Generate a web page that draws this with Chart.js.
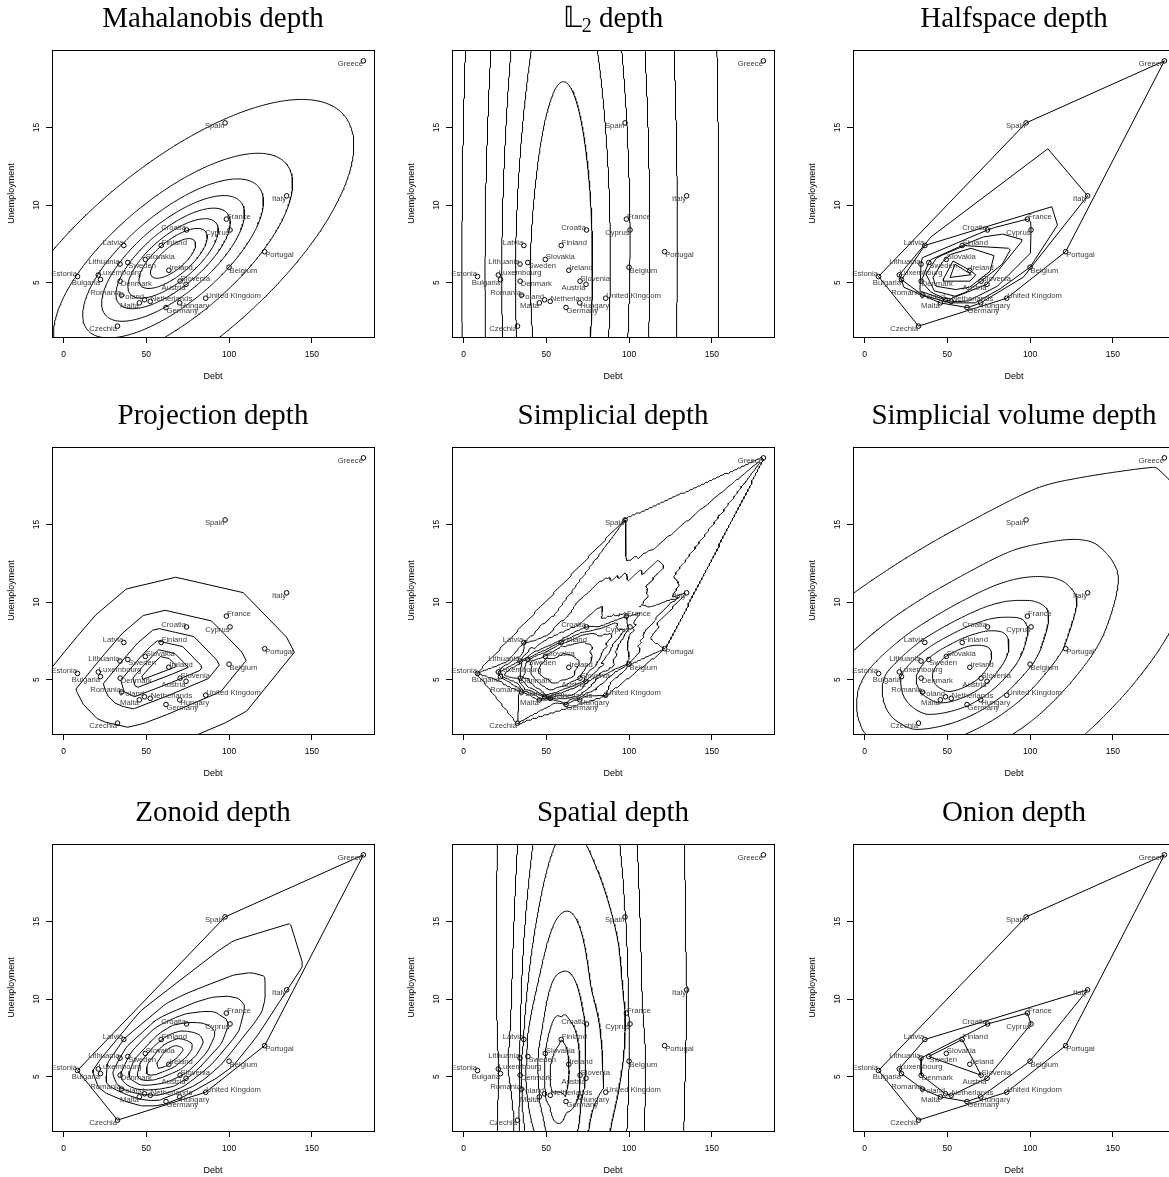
<!DOCTYPE html>
<html><head><meta charset="utf-8">
<title>Data depth contours</title>
<script src="https://cdn.jsdelivr.net/npm/chart.js@4.4.1/dist/chart.umd.min.js"></script>
<style>
html,body{margin:0;padding:0;background:#fff;}
body{width:1169px;height:1177px;overflow:hidden;position:relative;}
.panel{position:absolute;width:400px;height:397px;}
.panel canvas{position:absolute;left:0;top:0;}
.ttl{position:absolute;left:52px;width:322px;top:0;height:34px;text-align:center;font-family:'Liberation Serif','Times New Roman',serif;font-size:29px;line-height:34px;color:#000;white-space:nowrap;}
.ttl sub{font-size:20px;vertical-align:-5px;line-height:0;}
</style></head><body>
<script>
// ---------------- data ----------------
const countries = ['Greece','Spain','Italy','France','Cyprus','Croatia','Finland','Latvia','Portugal','Slovakia','Sweden','Lithuania','Belgium','Ireland','Luxembourg','Estonia','Bulgaria','Denmark','Slovenia','Austria','Romania','United Kingdom','Poland','Netherlands','Malta','Hungary','Germany','Czechia'];
const debt = [181.2,97.6,134.8,98.4,100.6,74.3,59.0,36.4,121.5,49.4,38.8,34.1,100.0,63.6,21.0,8.4,22.3,34.2,70.4,74.0,35.0,85.9,48.9,52.4,45.8,70.2,61.9,32.6];
const unemployment = [19.3,15.3,10.6,9.1,8.4,8.4,7.4,7.4,7.0,6.5,6.3,6.2,6.0,5.8,5.5,5.4,5.2,5.1,5.1,4.9,4.2,4.0,3.9,3.8,3.7,3.7,3.4,2.2];
const xTicks = [0, 50, 100, 150];
const yTicks = [5, 10, 15];
const panelTitles = ['Mahalanobis depth', '\u{1D543}<sub>2</sub> depth', 'Halfspace depth',
                     'Projection depth', 'Simplicial depth', 'Simplicial volume depth',
                     'Zonoid depth', 'Spatial depth', 'Onion depth'];
// contour levels: fractions of each panel's maximal depth (0 = support boundary)
const levelFractions = [1/9, 2/9, 3/9, 4/9, 5/9, 6/9, 7/9, 8/9];
const projectionLevelFractions = [0.7/9, 2.5/9, 3.5/9, 4.5/9, 5.5/9, 6.5/9, 7.5/9];
// label placement (L/R of point, Above/Below)
const labelSide = ['LB','LB','LB','RA','LB','LA','RA','LA','RB','RA','RB','LA','RB','RA','RA','LA','LB','RB','RA','LB','LA','RA','LA','RA','LB','RB','RB','LB'];

// ---------------- depth computations ----------------
const N = debt.length;
const P = debt.map((d,i)=>[d, unemployment[i]]);
const mx = debt.reduce((a,b)=>a+b,0)/N, my = unemployment.reduce((a,b)=>a+b,0)/N;
let sxx=0, syy=0, sxy=0;
for (const [x,y] of P){ sxx+=(x-mx)*(x-mx); syy+=(y-my)*(y-my); sxy+=(x-mx)*(y-my); }
sxx/=(N-1); syy/=(N-1); sxy/=(N-1);
const det = sxx*syy - sxy*sxy;
const ixx = syy/det, iyy = sxx/det, ixy = -sxy/det;
const sdx = Math.sqrt(sxx), sdy = Math.sqrt(syy);

const GX0=-14, GX1=195, GY0=0.3, GY1=21.2, NX=181, NY=181;
const DX=(GX1-GX0)/(NX-1), DY=(GY1-GY0)/(NY-1);
function gridFrom(fn){
  const z=new Float64Array(NX*NY);
  for(let j=0;j<NY;j++){const y=GY0+j*DY; for(let i=0;i<NX;i++){ z[j*NX+i]=fn(GX0+i*DX,y);} }
  return z;
}
function maxOf(z){ let m=-Infinity; for(const v of z) if(v>m) m=v; return m; }
const fracLevels = (M, fr=levelFractions) => fr.map(f=>f*M);
function mahal(x,y){ const dx=x-mx, dy=y-my; return 1/(1+dx*dx*ixx+2*dx*dy*ixy+dy*dy*iyy); }
function l2depth(x,y){ let s=0; for(const p of P) s+=Math.hypot(x-p[0],y-p[1]); return 1/(1+s/N); }
function spatial(x,y){ let ux=0,uy=0; for(const p of P){ const dx=x-p[0],dy=y-p[1],r=Math.hypot(dx,dy); if(r>1e-12){ux+=dx/r;uy+=dy/r;} } return 1-Math.hypot(ux,uy)/N; }
const pairC=[];
for(let i=0;i<N;i++) for(let j=i+1;j<N;j++){ const a=P[i], b=P[j]; pairC.push([a[0]*b[1]-a[1]*b[0], a[1]-b[1], b[0]-a[0]]); }
function oja(x,y){ let s=0; for(const c of pairC) s+=Math.abs(c[0]+x*c[1]+y*c[2]); s=s/2/pairC.length; return 1/(1+s); }
function simplicialGrid(){
  const z=new Float64Array(NX*NY); let cnt=0;
  for(let a=0;a<N;a++) for(let b=a+1;b<N;b++) for(let c=b+1;c<N;c++){
    cnt++;
    const A=P[a],B=P[b],C=P[c];
    const x0=Math.min(A[0],B[0],C[0]), x1=Math.max(A[0],B[0],C[0]), y0=Math.min(A[1],B[1],C[1]), y1=Math.max(A[1],B[1],C[1]);
    const i0=Math.max(0,Math.ceil((x0-GX0)/DX)), i1=Math.min(NX-1,Math.floor((x1-GX0)/DX));
    const j0=Math.max(0,Math.ceil((y0-GY0)/DY)), j1=Math.min(NY-1,Math.floor((y1-GY0)/DY));
    for(let j=j0;j<=j1;j++){ const y=GY0+j*DY; for(let i=i0;i<=i1;i++){ const x=GX0+i*DX;
      const d1=(B[0]-A[0])*(y-A[1])-(B[1]-A[1])*(x-A[0]);
      const d2=(C[0]-B[0])*(y-B[1])-(C[1]-B[1])*(x-B[0]);
      const d3=(A[0]-C[0])*(y-C[1])-(A[1]-C[1])*(x-C[0]);
      if((d1>=0&&d2>=0&&d3>=0)||(d1<=0&&d2<=0&&d3<=0)) z[j*NX+i]+=1;
    }}
  }
  for(let k=0;k<z.length;k++) z[k]/=cnt;
  return z;
}
function isolines(z, level){
  const segs=[];
  const X=i=>GX0+i*DX, Yv=j=>GY0+j*DY;
  function ep(e,i,j,a,b,c,d){
    let t;
    if(e===0){ t=(level-a)/(b-a); return [(j*NX+i)*2, [X(i)+t*DX, Yv(j)]]; }
    if(e===1){ t=(level-b)/(c-b); return [(j*NX+i+1)*2+1, [X(i+1), Yv(j)+t*DY]]; }
    if(e===2){ t=(level-d)/(c-d); return [((j+1)*NX+i)*2, [X(i)+t*DX, Yv(j+1)]]; }
    t=(level-a)/(d-a); return [(j*NX+i)*2+1, [X(i), Yv(j)+t*DY]];
  }
  for(let j=0;j<NY-1;j++) for(let i=0;i<NX-1;i++){
    const a=z[j*NX+i], b=z[j*NX+i+1], c=z[(j+1)*NX+i+1], d=z[(j+1)*NX+i];
    const A=a>=level, B=b>=level, C=c>=level, D=d>=level;
    const idx=(A?1:0)|(B?2:0)|(C?4:0)|(D?8:0);
    if(idx===0||idx===15) continue;
    const es=[]; if(A!==B) es.push(0); if(B!==C) es.push(1); if(D!==C) es.push(2); if(A!==D) es.push(3);
    let pe;
    if(es.length===2) pe=[[es[0],es[1]]];
    else { const ctr=(a+b+c+d)/4>=level;
      if(idx===5) pe= ctr?[[0,1],[2,3]]:[[3,0],[1,2]]; else pe= ctr?[[3,0],[1,2]]:[[0,1],[2,3]]; }
    for(const [e1,e2] of pe){ const p1=ep(e1,i,j,a,b,c,d), p2=ep(e2,i,j,a,b,c,d); segs.push({ka:p1[0],pa:p1[1],kb:p2[0],pb:p2[1]}); }
  }
  const map=new Map();
  segs.forEach((s,k)=>{ for(const key of [s.ka,s.kb]){ let l=map.get(key); if(!l){l=[];map.set(key,l);} l.push(k);} });
  const used=new Uint8Array(segs.length); const lines=[];
  for(let k=0;k<segs.length;k++){
    if(used[k]) continue; used[k]=1;
    const pts=[segs[k].pa, segs[k].pb];
    for(const dir of [1,0]){
      let key= dir? segs[k].kb : segs[k].ka;
      while(true){ const l=map.get(key); let nx=-1; for(const m of l) if(!used[m]){nx=m;break;} if(nx<0) break; used[nx]=1; const s=segs[nx];
        let np; if(s.ka===key){np=s.pb;key=s.kb;} else {np=s.pa;key=s.ka;}
        if(dir) pts.push(np); else pts.unshift(np); }
    }
    lines.push(pts);
  }
  return lines;
}
function gridContours(z, levels){ let out=[]; for(const lv of levels) out=out.concat(isolines(z,lv)); return out; }

function hullIdx(idx){
  const pts=idx.slice().sort((a,b)=>P[a][0]-P[b][0]||P[a][1]-P[b][1]);
  const cr=(o,a,b)=>(P[a][0]-P[o][0])*(P[b][1]-P[o][1])-(P[a][1]-P[o][1])*(P[b][0]-P[o][0]);
  const lo=[],up=[];
  for(const p of pts){ while(lo.length>=2&&cr(lo[lo.length-2],lo[lo.length-1],p)<=0) lo.pop(); lo.push(p); }
  for(let k=pts.length-1;k>=0;k--){ const p=pts[k]; while(up.length>=2&&cr(up[up.length-2],up[up.length-1],p)<=0) up.pop(); up.push(p); }
  up.pop(); lo.pop(); return lo.concat(up);
}
function hullPts(pts){
  pts=pts.slice().sort((a,b)=>a[0]-b[0]||a[1]-b[1]);
  const cr=(o,a,b)=>(a[0]-o[0])*(b[1]-o[1])-(a[1]-o[1])*(b[0]-o[0]);
  const lo=[],up=[];
  for(const p of pts){ while(lo.length>=2&&cr(lo[lo.length-2],lo[lo.length-1],p)<=1e-12) lo.pop(); lo.push(p); }
  for(let k=pts.length-1;k>=0;k--){ const p=pts[k]; while(up.length>=2&&cr(up[up.length-2],up[up.length-1],p)<=1e-12) up.pop(); up.push(p); }
  up.pop(); lo.pop(); return lo.concat(up);
}
function clipPoly(poly, ux, uy, c){
  const out=[];
  for(let i=0;i<poly.length;i++){
    const p=poly[i], q=poly[(i+1)%poly.length];
    const fp=ux*p[0]+uy*p[1]-c, fq=ux*q[0]+uy*q[1]-c;
    if(fp<=0) out.push(p);
    if((fp<0&&fq>0)||(fp>0&&fq<0)){ const t=fp/(fp-fq); out.push([p[0]+t*(q[0]-p[0]), p[1]+t*(q[1]-p[1])]); }
  }
  return out;
}
function polyArea(poly){ let s=0; for(let i=0;i<poly.length;i++){const p=poly[i],q=poly[(i+1)%poly.length]; s+=p[0]*q[1]-q[0]*p[1];} return Math.abs(s)/2; }
const critAngles=[];
for(let i=0;i<N;i++) for(let j=i+1;j<N;j++){ const dx=P[j][0]-P[i][0], dy=P[j][1]-P[i][1]; const a=Math.atan2(dx,-dy); critAngles.push(a, a+Math.PI); }
function stdDirs(n, span){ const d=[]; for(let k=0;k<n;k++){ const t=span*k/n; const ux=Math.cos(t)/sdx, uy=Math.sin(t)/sdy, r=Math.hypot(ux,uy); d.push([ux/r,uy/r]); } return d; }
const dirs=critAngles.map(a=>[Math.cos(a),Math.sin(a)]).concat(stdDirs(720,2*Math.PI));
const bigBox=[[-1e4,-1e4],[1e4,-1e4],[1e4,1e4],[-1e4,1e4]];
function tukeyRegions(){
  const proj=dirs.map(([ux,uy])=>P.map(p=>p[0]*ux+p[1]*uy).sort((a,b)=>b-a));
  const regs=[];
  for(let k=1;k<=N;k++){
    let poly=bigBox;
    for(let d=0;d<dirs.length&&poly.length>=3;d++) poly=clipPoly(poly,dirs[d][0],dirs[d][1],proj[d][k-1]+1e-9);
    if(poly.length<3||polyArea(poly)<1e-6) break;
    regs.push(poly);
  }
  return regs;
}
function median(a){ const s=a.slice().sort((x,y)=>x-y); const m=s.length>>1; return s.length%2?s[m]:(s[m-1]+s[m])/2; }
const projDirs=stdDirs(1800,Math.PI).concat(critAngles.map(a=>[Math.cos(a),Math.sin(a)]));
const projStats=projDirs.map(([ux,uy])=>{ const pr=P.map(p=>p[0]*ux+p[1]*uy); const md=median(pr); const mad=median(pr.map(v=>Math.abs(v-md))); return [md,mad]; });
function projectionMax(){
  let minO=Infinity;
  for(let j=0;j<NY;j++){ const y=GY0+j*DY; for(let i=0;i<NX;i++){ const x=GX0+i*DX; let o=0;
    for(let d=0;d<projDirs.length;d+=3){ const v=Math.abs(projDirs[d][0]*x+projDirs[d][1]*y-projStats[d][0])/projStats[d][1]; if(v>o){o=v; if(o>=minO) break;} }
    if(o<minO) minO=o; } }
  return 1/(1+minO);
}
function projectionRegions(levels){
  const regs=[];
  for(const lv of levels){
    const c=1/lv-1; let poly=bigBox;
    for(let d=0;d<projDirs.length&&poly.length>=3;d++){ const [ux,uy]=projDirs[d], [md,mad]=projStats[d];
      poly=clipPoly(poly,ux,uy,md+c*mad); if(poly.length>=3) poly=clipPoly(poly,-ux,-uy,-(md-c*mad)); }
    if(poly.length>=3) regs.push(poly);
  }
  return regs;
}
function zonoidRegions(levels){
  const zd=[];
  for(const a of critAngles){ zd.push([Math.cos(a+1e-7),Math.sin(a+1e-7)]); zd.push([Math.cos(a-1e-7),Math.sin(a-1e-7)]); }
  for(const d of stdDirs(720,2*Math.PI)) zd.push(d);
  const orders=zd.map(([ux,uy])=>{ const idx=[...Array(N).keys()]; const pr=P.map(p=>p[0]*ux+p[1]*uy); return idx.sort((a,b)=>pr[b]-pr[a]); });
  const regs=[];
  for(const al of levels){
    const w=1/(N*al); const pts=[];
    for(const ord of orders){ let rem=1,sx=0,sy=0; for(const i of ord){ const wi=Math.min(w,rem); sx+=wi*P[i][0]; sy+=wi*P[i][1]; rem-=wi; if(rem<=1e-12) break; } pts.push([sx,sy]); }
    regs.push(hullPts(pts));
  }
  return regs;
}
function onionLayers(){
  let rem=[...Array(N).keys()]; const layers=[];
  while(rem.length>=3){ const h=hullIdx(rem); layers.push(h.map(i=>P[i])); rem=rem.filter(i=>!h.includes(i)); }
  return layers;
}
const closePoly=poly=>poly.concat([poly[0]]);
function stepIndices(K){ const s=new Set([1]); for(const f of levelFractions){ const j=Math.ceil(f*K-1e-9); if(j>=1&&j<=K) s.add(j); } return [...s].sort((a,b)=>a-b); }

const zMah=gridFrom(mahal), zL2=gridFrom(l2depth), zSimp=simplicialGrid(), zOja=gridFrom(oja), zSpat=gridFrom(spatial);
const tk=tukeyRegions();
const onion=onionLayers();
const panelContours = [
  gridContours(zMah, fracLevels(maxOf(zMah))),
  gridContours(zL2, fracLevels(maxOf(zL2))),
  stepIndices(tk.length).map(j=>closePoly(tk[j-1])),
  projectionRegions(fracLevels(projectionMax(), projectionLevelFractions)).map(closePoly),
  gridContours(zSimp, [1e-9].concat(fracLevels(maxOf(zSimp)))),
  gridContours(zOja, fracLevels(maxOf(zOja))),
  [closePoly(hullPts(P))].concat(zonoidRegions(levelFractions).map(closePoly)),
  gridContours(zSpat, fracLevels(maxOf(zSpat))),
  stepIndices(onion.length).map(j=>closePoly(onion[j-1]))
];

// ---------------- drawing ----------------
const colLeft=[0,400,801], rowTop=[0,397,794];
const SANS='"Liberation Sans", Arial, Helvetica, sans-serif';
const boxPlugin={ id:'box', afterDraw(chart){ const {ctx,chartArea:a}=chart; ctx.save(); ctx.strokeStyle='#000'; ctx.lineWidth=1; ctx.strokeRect(a.left+0.5,a.top+0.5,a.right-a.left,a.bottom-a.top); ctx.restore(); } };
const labelPlugin={ id:'countryLabels', afterDatasetsDraw(chart){
  const {ctx, scales:{x,y}}=chart; ctx.save();
  ctx.font='7.7px '+SANS; ctx.fillStyle='#3c3c3c'; ctx.textBaseline='middle';
  for(let i=0;i<N;i++){
    const px=x.getPixelForValue(debt[i]), py=y.getPixelForValue(unemployment[i]);
    const s=labelSide[i];
    ctx.textAlign= s[0]==='L'?'right':'left';
    ctx.fillText(countries[i], px+(s[0]==='L'?-0.5:0.5), py+(s[1]==='A'?-2.5:3.2));
  }
  ctx.restore(); } };

for(let p=0;p<9;p++){
  const r=Math.floor(p/3), c=p%3;
  const div=document.createElement('div'); div.className='panel';
  div.style.left=colLeft[c]+'px'; div.style.top=rowTop[r]+'px';
  const cv=document.createElement('canvas'); cv.width=400; cv.height=397; cv.style.width='400px'; cv.style.height='397px';
  div.appendChild(cv);
  const t=document.createElement('div'); t.className='ttl'; t.innerHTML=panelTitles[p]; div.appendChild(t);
  document.body.appendChild(div);
  const datasets=panelContours[p].map(line=>({
    data: line.map(q=>({x:q[0],y:q[1]})), showLine:true, pointRadius:0, borderColor:'#000', borderWidth:1, tension:0, fill:false, order:2
  }));
  datasets.push({ data: debt.map((d,i)=>({x:d,y:unemployment[i]})), pointRadius:2.3, pointStyle:'circle', borderColor:'#000', backgroundColor:'rgba(0,0,0,0)', borderWidth:1, showLine:false, order:1 });
  new Chart(cv, {
    type:'scatter',
    data:{datasets},
    options:{
      responsive:false, animation:false, devicePixelRatio:1, events:[],
      layout:{padding:{left:0,right:26,top:50,bottom:0}},
      plugins:{legend:{display:false}, tooltip:{enabled:false}, title:{display:false}},
      scales:{
        x:{ type:'linear', position:'bottom', min:-7, max:187.6,
          afterBuildTicks:s=>{ s.ticks=xTicks.map(v=>({value:v})); },
          afterFit:s=>{ s.height=60; },
          grid:{display:true, drawOnChartArea:false, drawTicks:true, tickLength:6, color:'#000', lineWidth:1},
          border:{display:false},
          ticks:{color:'#000', font:{family:SANS,size:8.5}, padding:7, maxRotation:0, minRotation:0, autoSkip:false},
          title:{display:true, text:'Debt', color:'#000', font:{family:SANS,size:9}, padding:{top:0,bottom:15}}
        },
        y:{ type:'linear', position:'left', min:1.5, max:20.0,
          afterBuildTicks:s=>{ s.ticks=yTicks.map(v=>({value:v})); },
          afterFit:s=>{ s.width=52; },
          grid:{display:true, drawOnChartArea:false, drawTicks:true, tickLength:6, color:'#000', lineWidth:1},
          border:{display:false},
          ticks:{color:'#000', font:{family:SANS,size:8.5}, padding:5, minRotation:90, maxRotation:90, crossAlign:'center', autoSkip:false},
          title:{display:true, text:'Unemployment', color:'#000', font:{family:SANS,size:9}, padding:{top:6.6,bottom:0}}
        }
      }
    },
    plugins:[boxPlugin,labelPlugin]
  });
}
</script>
</body></html>
